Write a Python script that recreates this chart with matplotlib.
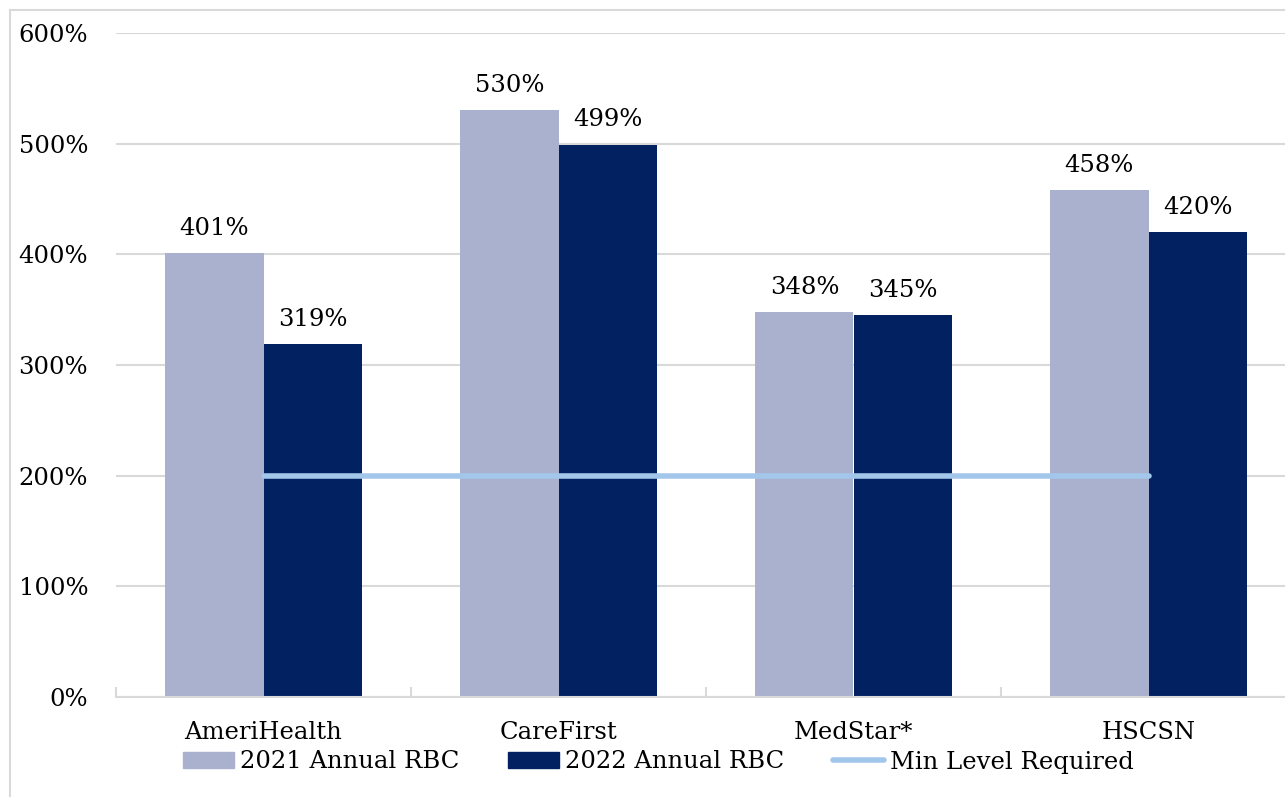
import numpy as np
import matplotlib.pyplot as plt
from matplotlib.patches import Rectangle
from matplotlib.lines import Line2D

# =============================
# DATA
# =============================
plans = ["AmeriHealth", "CareFirst", "MedStar*", "HSCSN"]
rbc_2021 = [401, 530, 348, 458]
rbc_2022 = [319, 499, 345, 420]
min_level = [200, 200, 200, 200]
series_names = ["2021 Annual RBC", "2022 Annual RBC", "Min Level Required"]
y_ticks = [0, 100, 200, 300, 400, 500, 600]

c2021 = "#A9B1CE"
c2022 = "#022160"
cmin = "#A3C7EA"
grid_c = "#D9D9D9"

plt.rcParams['font.family'] = ['DejaVu Serif']
fs = 17.5

fig = plt.figure(figsize=(12.85, 7.97), dpi=100)
W, H = 1285, 797

# outer chart border (left and top visible)
fig.add_artist(Line2D([10 / W, 10 / W], [0, 1 - 10 / H], transform=fig.transFigure,
                      color=grid_c, lw=1.5))
fig.add_artist(Line2D([10 / W, 1], [1 - 10 / H, 1 - 10 / H], transform=fig.transFigure,
                      color=grid_c, lw=1.5))

ax = fig.add_axes([116 / W, (H - 697) / H, (1296 - 116) / W, (697 - 33) / H])

x = np.arange(len(plans))
bw = 0.333
b1 = ax.bar(x - bw / 2, rbc_2021, bw, color=c2021, zorder=2)
b2 = ax.bar(x + bw / 2, rbc_2022, bw, color=c2022, zorder=2)
ax.plot(x, min_level, color=cmin, lw=4, solid_capstyle='round', zorder=3)

for bars in (b1, b2):
    for r in bars:
        ax.text(r.get_x() + r.get_width() / 2, r.get_height() + 12,
                f"{int(r.get_height())}%", ha='center', va='bottom', fontsize=fs)

ax.set_xlim(-0.5, len(plans) - 0.5)
ax.set_ylim(0, 600)
ax.set_yticks(y_ticks)
ax.set_yticklabels([f"{v}%" for v in y_ticks], fontsize=fs)
ax.tick_params(axis='y', length=0, pad=20)
ax.yaxis.grid(True, color=grid_c, lw=1.5, zorder=0)
ax.set_axisbelow(True)

ax.set_xticks(np.arange(len(plans) + 1) - 0.5)
ax.set_xticklabels([])
ax.tick_params(axis='x', which='major', direction='in', length=7, color=grid_c, width=1.5)
ax.set_xticks(x, minor=True)
ax.set_xticklabels(plans, minor=True, fontsize=fs)
ax.tick_params(axis='x', which='minor', length=0, pad=17)

for s in ['left', 'right', 'top']:
    ax.spines[s].set_visible(False)
ax.spines['bottom'].set_color(grid_c)
ax.spines['bottom'].set_linewidth(1.5)

handles = [Rectangle((0, 0), 1, 1, color=c2021),
           Rectangle((0, 0), 1, 1, color=c2022),
           Line2D([0], [0], color=cmin, lw=4, solid_capstyle='round')]
fig.legend(handles, series_names, loc='center', bbox_to_anchor=(658 / W, 1 - 762 / H),
           ncol=3, frameon=False, fontsize=fs, handlelength=2.1, handleheight=0.65,
           handletextpad=0.25, columnspacing=2.0, borderaxespad=0, borderpad=0)

plt.savefig("out.png", dpi=100)
